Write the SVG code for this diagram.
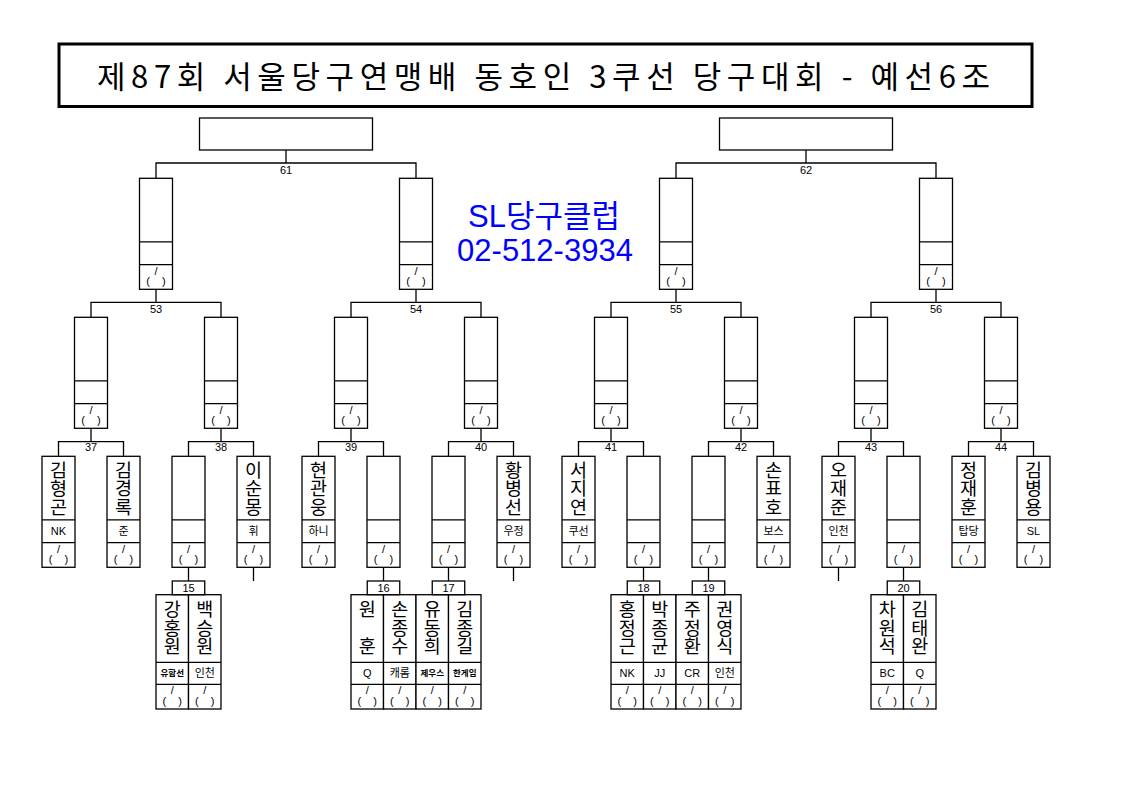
<svg xmlns="http://www.w3.org/2000/svg" width="1123" height="794" viewBox="0 0 1123 794">
<style>
.bx{fill:#fff;stroke:#000;stroke-width:1.3}
.ln{stroke:#000;stroke-width:1.3;fill:none}
.sc{font-family:"Liberation Sans",sans-serif;font-size:11px;text-anchor:middle;white-space:pre}
.num{font-family:"Liberation Sans Narrow","Liberation Sans",sans-serif;font-size:11px;text-anchor:middle}
.nm{font-family:"Noto Sans CJK KR",sans-serif;font-size:18.5px;writing-mode:vertical-rl;text-orientation:upright;text-anchor:start}
.cl{font-family:"Liberation Sans","Noto Sans CJK KR",sans-serif;font-size:11px;text-anchor:middle}
.cs{font-family:"Noto Sans CJK KR",sans-serif;font-size:8.5px;font-weight:bold;text-anchor:middle}
.title{font-family:"Noto Sans CJK KR",sans-serif;font-size:31px}
.blue{font-family:"Liberation Sans","Noto Sans CJK KR",sans-serif;font-size:31px;fill:#0000ff;text-anchor:middle}
</style>
<defs>
<g id="slot">
<rect class="bx" x="-16.5" y="0" width="33" height="111"/>
<path class="ln" d="M-16.5 63.5H16.5M-16.5 86.3H16.5"/>
<text class="sc" x="0" y="97">/</text>
<text class="sc" x="0" y="106.5">(    )</text>
</g>
<g id="pcol">
<rect class="bx" x="-16.25" y="0" width="32.5" height="114.3"/>
<path class="ln" d="M-16.25 67.6H16.25M-16.25 89.6H16.25"/>
<text class="sc" x="0" y="99.5">/</text>
<text class="sc" x="0" y="110">(    )</text>
</g>
</defs>
<rect width="1123" height="794" fill="#fff"/>

<g id="title">
<rect x="59" y="44" width="973" height="62.5" fill="#fff" stroke="#000" stroke-width="3"/>
<text class="title" x="97" y="88" textLength="893" lengthAdjust="spacing">제87회 서울당구연맹배 동호인 3쿠선 당구대회 - 예선6조</text>
</g>

<g id="club-info">
<text class="blue" x="544" y="227">SL당구클럽</text>
<text class="blue" x="545" y="260.5">02-512-3934</text>
</g>

<g id="final-61"><rect class="bx" x="199.5" y="118" width="173" height="32"/></g>
<g id="final-62"><rect class="bx" x="719.5" y="118" width="173" height="32"/></g>

<g id="w53"><use href="#slot" transform="translate(156,178.3)"/></g>
<g id="w54"><use href="#slot" transform="translate(416,178.3)"/></g>
<g id="w55"><use href="#slot" transform="translate(676,178.3)"/></g>
<g id="w56"><use href="#slot" transform="translate(936,178.3)"/></g>

<g id="w37"><use href="#slot" transform="translate(91,317.3)"/></g>
<g id="w38"><use href="#slot" transform="translate(221,317.3)"/></g>
<g id="w39"><use href="#slot" transform="translate(351,317.3)"/></g>
<g id="w40"><use href="#slot" transform="translate(481,317.3)"/></g>
<g id="w41"><use href="#slot" transform="translate(611,317.3)"/></g>
<g id="w42"><use href="#slot" transform="translate(741,317.3)"/></g>
<g id="w43"><use href="#slot" transform="translate(871,317.3)"/></g>
<g id="w44"><use href="#slot" transform="translate(1001,317.3)"/></g>

<g id="p01" transform="translate(58.5,456.3)"><use href="#slot"/><text class="nm" x="0" y="4">김형곤</text><text class="cl" x="0" y="79">NK</text></g>
<g id="p02" transform="translate(123.5,456.3)"><use href="#slot"/><text class="nm" x="0" y="4">김경록</text><text class="cl" x="0" y="79">준</text></g>
<g id="w15" transform="translate(188.5,456.3)"><use href="#slot"/></g>
<g id="p03" transform="translate(253.5,456.3)"><use href="#slot"/><text class="nm" x="0" y="4">이순몽</text><text class="cl" x="0" y="79">휘</text></g>
<g id="p04" transform="translate(318.5,456.3)"><use href="#slot"/><text class="nm" x="0" y="4">현관웅</text><text class="cl" x="0" y="79">하니</text></g>
<g id="w16" transform="translate(383.5,456.3)"><use href="#slot"/></g>
<g id="w17" transform="translate(448.5,456.3)"><use href="#slot"/></g>
<g id="p05" transform="translate(513.5,456.3)"><use href="#slot"/><text class="nm" x="0" y="4">황병선</text><text class="cl" x="0" y="79">우정</text></g>
<g id="p06" transform="translate(578.5,456.3)"><use href="#slot"/><text class="nm" x="0" y="4">서지연</text><text class="cl" x="0" y="79">쿠선</text></g>
<g id="w18" transform="translate(643.5,456.3)"><use href="#slot"/></g>
<g id="w19" transform="translate(708.5,456.3)"><use href="#slot"/></g>
<g id="p07" transform="translate(773.5,456.3)"><use href="#slot"/><text class="nm" x="0" y="4">손표호</text><text class="cl" x="0" y="79">보스</text></g>
<g id="p08" transform="translate(838.5,456.3)"><use href="#slot"/><text class="nm" x="0" y="4">오재준</text><text class="cl" x="0" y="79">인천</text></g>
<g id="w20" transform="translate(903.5,456.3)"><use href="#slot"/></g>
<g id="p09" transform="translate(968.5,456.3)"><use href="#slot"/><text class="nm" x="0" y="4">정재훈</text><text class="cl" x="0" y="79">탑당</text></g>
<g id="p10" transform="translate(1033.5,456.3)"><use href="#slot"/><text class="nm" x="0" y="4">김병용</text><text class="cl" x="0" y="79">SL</text></g>

<g id="p11" transform="translate(172.25,594.7)"><use href="#pcol"/><text class="nm" x="0" y="5.5">강홍원</text><text class="cs" x="0" y="81.5">유함선</text></g>
<g id="p12" transform="translate(204.75,594.7)"><use href="#pcol"/><text class="nm" x="0" y="5.5">백승원</text><text class="cl" x="0" y="82.5">인천</text></g>
<g id="p13" transform="translate(367.25,594.7)"><use href="#pcol"/><text class="nm" x="0" y="5.5">원　훈</text><text class="cl" x="0" y="82.5">Q</text></g>
<g id="p14" transform="translate(399.75,594.7)"><use href="#pcol"/><text class="nm" x="0" y="5.5">손종수</text><text class="cl" x="0" y="82.5">캐롬</text></g>
<g id="p15" transform="translate(432.25,594.7)"><use href="#pcol"/><text class="nm" x="0" y="5.5">유동희</text><text class="cs" x="0" y="81.5">제우스</text></g>
<g id="p16" transform="translate(464.75,594.7)"><use href="#pcol"/><text class="nm" x="0" y="5.5">김종길</text><text class="cs" x="0" y="81.5">한게임</text></g>
<g id="p17" transform="translate(627.25,594.7)"><use href="#pcol"/><text class="nm" x="0" y="5.5">홍정근</text><text class="cl" x="0" y="82.5">NK</text></g>
<g id="p18" transform="translate(659.75,594.7)"><use href="#pcol"/><text class="nm" x="0" y="5.5">박종균</text><text class="cl" x="0" y="82.5">JJ</text></g>
<g id="p19" transform="translate(692.25,594.7)"><use href="#pcol"/><text class="nm" x="0" y="5.5">주정환</text><text class="cl" x="0" y="82.5">CR</text></g>
<g id="p20" transform="translate(724.75,594.7)"><use href="#pcol"/><text class="nm" x="0" y="5.5">권영식</text><text class="cl" x="0" y="82.5">인천</text></g>
<g id="p21" transform="translate(887.25,594.7)"><use href="#pcol"/><text class="nm" x="0" y="5.5">차원석</text><text class="cl" x="0" y="82.5">BC</text></g>
<g id="p22" transform="translate(919.75,594.7)"><use href="#pcol"/><text class="nm" x="0" y="5.5">김태완</text><text class="cl" x="0" y="82.5">Q</text></g>

<g id="connectors">
<path class="ln" d="M286 150V163M156 178.3V163H416V178.3M806 150V163M676 178.3V163H936V178.3"/>
<path class="ln" d="M156 289.3V302.3M91 317.3V302.3H221V317.3M416 289.3V302.3M351 317.3V302.3H481V317.3M676 289.3V302.3M611 317.3V302.3H741V317.3M936 289.3V302.3M871 317.3V302.3H1001V317.3"/>
<path class="ln" d="M91 428.3V441.7M58.5 456.3V441.7H123.5V456.3M221 428.3V441.7M188.5 456.3V441.7H253.5V456.3M351 428.3V441.7M318.5 456.3V441.7H383.5V456.3M481 428.3V441.7M448.5 456.3V441.7H513.5V456.3M611 428.3V441.7M578.5 456.3V441.7H643.5V456.3M741 428.3V441.7M708.5 456.3V441.7H773.5V456.3M871 428.3V441.7M838.5 456.3V441.7H903.5V456.3M1001 428.3V441.7M968.5 456.3V441.7H1033.5V456.3"/>
<path class="ln" d="M253.5 567.3V581M513.5 567.3V581M838.5 567.3V581M188.5 567.3V581M383.5 567.3V581M448.5 567.3V581M643.5 567.3V581M708.5 567.3V581M903.5 567.3V581"/>
<rect class="bx" x="172.25" y="581" width="32.5" height="13.7"/>
<rect class="bx" x="367.25" y="581" width="32.5" height="13.7"/>
<rect class="bx" x="432.25" y="581" width="32.5" height="13.7"/>
<rect class="bx" x="627.25" y="581" width="32.5" height="13.7"/>
<rect class="bx" x="692.25" y="581" width="32.5" height="13.7"/>
<rect class="bx" x="887.25" y="581" width="32.5" height="13.7"/>
<text class="num" x="286" y="174">61</text>
<text class="num" x="806" y="174">62</text>
<text class="num" x="156" y="312.7">53</text>
<text class="num" x="416" y="312.7">54</text>
<text class="num" x="676" y="312.7">55</text>
<text class="num" x="936" y="312.7">56</text>
<text class="num" x="91" y="450.7">37</text>
<text class="num" x="221" y="450.7">38</text>
<text class="num" x="351" y="450.7">39</text>
<text class="num" x="481" y="450.7">40</text>
<text class="num" x="611" y="450.7">41</text>
<text class="num" x="741" y="450.7">42</text>
<text class="num" x="871" y="450.7">43</text>
<text class="num" x="1001" y="450.7">44</text>
<text class="num" x="188.5" y="591.5">15</text>
<text class="num" x="383.5" y="591.5">16</text>
<text class="num" x="448.5" y="591.5">17</text>
<text class="num" x="643.5" y="591.5">18</text>
<text class="num" x="708.5" y="591.5">19</text>
<text class="num" x="903.5" y="591.5">20</text>
</g>
</svg>
